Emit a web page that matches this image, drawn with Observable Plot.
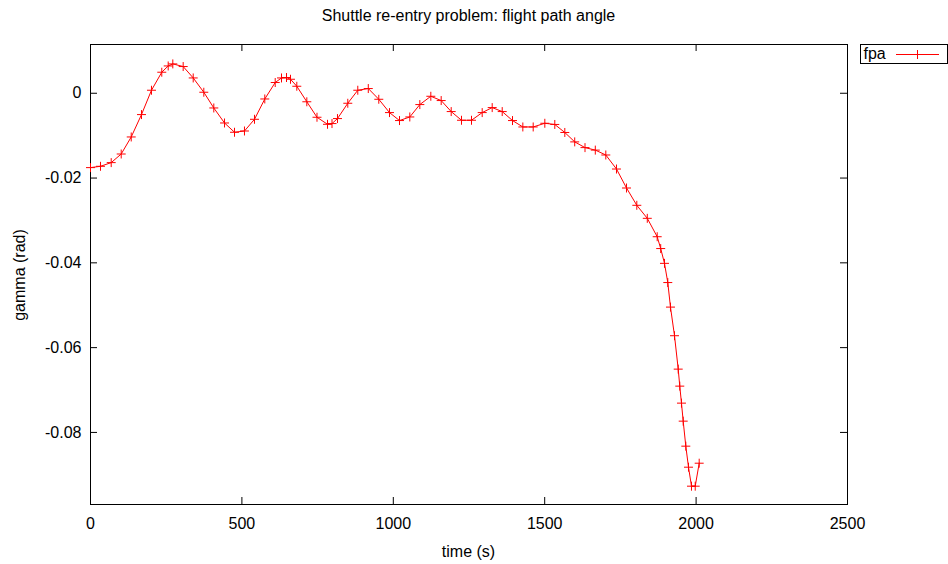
<!DOCTYPE html>
<html>
<head>
<meta charset="utf-8">
<script src="https://cdn.jsdelivr.net/npm/d3@7"></script>
<script src="https://cdn.jsdelivr.net/npm/@observablehq/plot@0.6"></script>
<style>
  html, body { margin: 0; padding: 0; background: #fff; }
  #wrap { position: relative; width: 948px; height: 564px; font-family: "Liberation Sans", Arial, sans-serif; font-size: 16px; color: #000; }
  #wrap > svg { position: absolute; left: 0; top: 0; }
  .lbl { position: absolute; line-height: 16px; white-space: nowrap; text-align: center; }
</style>
</head>
<body>
<div id="wrap">
  <div class="lbl" style="left:268.5px; width:400px; top:8.2px;">Shuttle re-entry problem: flight path angle</div>
  <div class="lbl" style="left:368.5px; width:200px; top:543.5px;">time (s)</div>
  <div class="lbl" style="left:-80.5px; width:200px; top:267px; height:16px; transform:rotate(-90deg);">gamma (rad)</div>
  <svg id="legend" width="88" height="20" style="position:absolute; left:860px; top:44px; overflow:visible">
    <rect x="0.5" y="0.5" width="87" height="19" fill="#fff" stroke="#000" stroke-width="1"></rect>
    <text x="3.5" y="14.5" font-family="Liberation Sans, Arial, sans-serif" font-size="16" fill="#000">fpa</text>
    <line x1="36" x2="79" y1="10.5" y2="10.5" stroke="red" stroke-width="1"></line>
    <path d="M57.5,6V15M53,10.5H62" stroke="red" stroke-width="1" fill="none"></path>
  </svg>
</div>
<script>
const time = [0,33.0,68.4,101.4,134.5,168.4,201.4,235.4,256.6,271.8,
  306.1,339.2,374.2,407.2,442.6,475.6,508.5,541.6,575.6,610.0,
  630.8,647.3,660.5,681.3,714.4,748.0,782.7,797.6,815.7,849.7,
  882.7,917.4,952.1,987.4,1020.5,1054.5,1087.6,1123.9,1158.1,1191.2,
  1225.2,1258.3,1293.6,1326.6,1359.7,1393.7,1427.8,1462.0,1500.4,1533.3,
  1566.4,1599.1,1633.1,1667.1,1701.8,1737.1,1770.2,1804.2,1838.8,1871.5,
  1883.1,1895.6,1906.5,1915.4,1928.7,1940.9,1946.1,1951.7,1957.4,1966.0,
  1974.9,1984.8,1997.1,2010.2];
const gamma = [-0.01754,-0.01723,-0.01636,-0.01433,-0.01031,-0.00503,0.00071,0.00496,0.00644,0.00692,
  0.00630,0.00361,0.00024,-0.00347,-0.00701,-0.00920,-0.00890,-0.00614,-0.00135,0.00253,
  0.00361,0.00371,0.00330,0.00165,-0.00201,-0.00566,-0.00732,-0.00715,-0.00597,-0.00236,
  0.00071,0.00111,-0.00142,-0.00456,-0.00644,-0.00559,-0.00267,-0.00071,-0.00172,-0.00432,
  -0.00637,-0.00637,-0.00456,-0.00338,-0.00432,-0.00644,-0.00795,-0.00795,-0.00708,-0.00736,
  -0.00925,-0.01147,-0.01282,-0.01341,-0.01456,-0.01787,-0.02235,-0.02643,-0.02950,-0.03384,
  -0.03663,-0.04012,-0.04465,-0.05044,-0.05719,-0.06507,-0.06908,-0.07309,-0.07734,-0.08324,
  -0.08820,-0.09268,-0.09268,-0.08726];
const xTicks = [0, 500, 1000, 1500, 2000, 2500];
const yTicks = [0, -0.02, -0.04, -0.06, -0.08];
const xDomain = [0, 2500];
const yDomain = [-0.0970, 0.0115];

const data = time.map((t, i) => ({t, g: gamma[i]}));

const W = 948, H = 564, mL = 90, mR = 101, mT = 44, mB = 60, tick = 7;
const innerW = W - mL - mR, innerH = H - mT - mB;

const chart = Plot.plot({
  width: W, height: H,
  marginLeft: mL, marginRight: mR, marginTop: mT, marginBottom: mB,
  style: {fontFamily: "Liberation Sans, Arial, sans-serif", fontSize: "16px", color: "#000", background: "transparent", overflow: "visible"},
  x: {domain: xDomain},
  y: {domain: yDomain},
  marks: [
    Plot.axisX({ticks: xTicks, tickSize: 0, tickPadding: 13.6, label: null, tickFormat: d => String(d)}),
    Plot.axisY({ticks: yTicks, tickSize: 0, tickPadding: 9, label: null, tickFormat: d => d === 0 ? "0" : d.toFixed(2)}),
    Plot.tickX(xTicks, {x: d => d, insetTop: innerH - tick, stroke: "#000"}),
    Plot.tickX(xTicks, {x: d => d, insetBottom: innerH - tick, stroke: "#000"}),
    Plot.tickY(yTicks, {y: d => d, insetRight: innerW - tick, stroke: "#000"}),
    Plot.tickY(yTicks, {y: d => d, insetLeft: innerW - tick, stroke: "#000"}),
    Plot.frame({stroke: "#000"}),
    Plot.line(data, {x: "t", y: "g", stroke: "red", strokeWidth: 1}),
    Plot.dot(data, {x: "t", y: "g", symbol: "plus", r: 3, stroke: "red", strokeWidth: 1})
  ]
});
document.getElementById("wrap").insertBefore(chart, document.getElementById("wrap").firstChild);
</script>
</body>
</html>
